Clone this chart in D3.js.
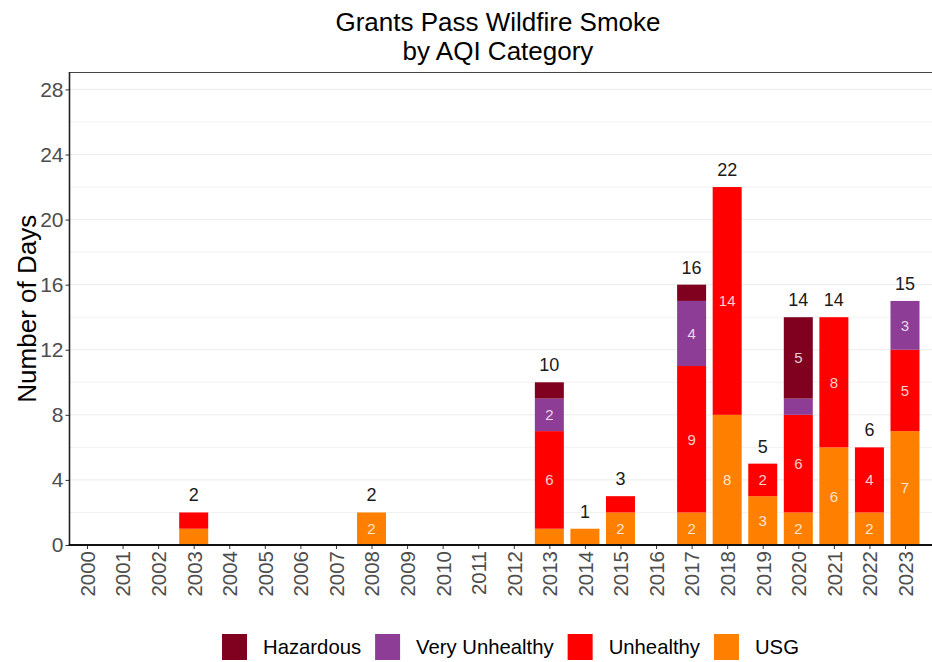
<!DOCTYPE html>
<html><head><meta charset="utf-8">
<script src="https://cdn.jsdelivr.net/npm/d3@7"></script>
<style>body{margin:0;background:#fff}svg{display:block;font-family:"Liberation Sans",Arial,sans-serif}</style>
</head><body><svg id="c" width="932" height="662"></svg>
<script>
const years = d3.range(2000, 2024).map(String);
const categories = ["USG", "Unhealthy", "Very Unhealthy", "Hazardous"];
const legendOrder = ["Hazardous", "Very Unhealthy", "Unhealthy", "USG"];
const colors = {"Hazardous":"#800020","Very Unhealthy":"#8E3D96","Unhealthy":"#FF0000","USG":"#FF8000"};
// values per year (2000..2023)
const usg        = [0,0,0,1,0,0,0,0,2,0,0,0,0,1,1,2,0,2,8,3,2,6,2,7];
const unhealthy  = [0,0,0,1,0,0,0,0,0,0,0,0,0,6,0,1,0,9,14,2,6,8,4,5];
const veryUnh    = [0,0,0,0,0,0,0,0,0,0,0,0,0,2,0,0,0,4,0,0,1,0,0,3];
const hazardous  = [0,0,0,0,0,0,0,0,0,0,0,0,0,1,0,0,0,1,0,0,5,0,0,0];
const yTicks = [0,4,8,12,16,20,24,28];

const series = {"USG":usg,"Unhealthy":unhealthy,"Very Unhealthy":veryUnh,"Hazardous":hazardous};
const table = years.map((y,i)=>{const o={year:y}; categories.forEach(c=>o[c]=series[c][i]); return o;});
const totals = years.map((y,i)=>categories.reduce((s,c)=>s+series[c][i],0));

const svg = d3.select("#c");
const L=69.5, R=932, T=72.5, B=545;
const FF = "Liberation Sans,Arial,sans-serif";
const x = d3.scalePoint().domain(years).range([87,905]);
const bw = 29;
const y = d3.scaleLinear().domain([0,29.04]).range([B,T]);

// grid
const g = svg.append("g");
d3.range(2,29,4).forEach(v=>g.append("line").attr("x1",L).attr("x2",R).attr("y1",y(v)).attr("y2",y(v)).attr("stroke","#f2f2f2").attr("stroke-width",1));
yTicks.forEach(v=>g.append("line").attr("x1",L).attr("x2",R).attr("y1",y(v)).attr("y2",y(v)).attr("stroke","#ebebeb").attr("stroke-width",1));

// bars
const stack = d3.stack().keys(categories)(table);
const bars = svg.append("g");
stack.forEach(layer=>{
  bars.selectAll(null).data(layer).enter().append("rect")
    .filter(d=>d[1]>d[0])
    .attr("x",d=>x(d.data.year)-bw/2).attr("width",bw)
    .attr("y",d=>y(d[1])).attr("height",d=>y(d[0])-y(d[1]))
    .attr("fill",colors[layer.key]);
  bars.selectAll(null).data(layer.filter(d=>d[1]-d[0]>=2)).enter().append("text")
    .attr("x",d=>x(d.data.year)).attr("y",d=>y((d[0]+d[1])/2)).attr("dy","0.36em")
    .attr("text-anchor","middle").attr("font-size",15).attr("fill","#fff").attr("fill-opacity",0.82)
    .text(d=>d[1]-d[0]);
});
// totals
svg.append("g").selectAll("text").data(years.map((yr,i)=>({yr,t:totals[i]})).filter(d=>d.t>0)).enter()
  .append("text").attr("x",d=>x(d.yr)).attr("y",d=>y(d.t)-11).attr("text-anchor","middle")
  .attr("font-size",18).attr("fill","#1a1a1a").text(d=>d.t);

// axes
const yAxis = svg.append("g").attr("transform",`translate(${L},0)`).call(d3.axisLeft(y).tickValues(yTicks).tickSize(4).tickPadding(2));
yAxis.select(".domain").remove();
yAxis.selectAll("line").attr("stroke","#333");
yAxis.selectAll("text").attr("font-size",21).attr("fill","#4d4d4d").attr("font-family",FF);
const xAxis = svg.append("g").attr("transform",`translate(0,${B})`).call(d3.axisBottom(x).tickSize(4).tickPadding(3));
xAxis.select(".domain").remove();
xAxis.selectAll("line").attr("stroke","#333");
xAxis.selectAll("text").attr("font-size",20.5).attr("fill","#4d4d4d").attr("font-family",FF)
  .attr("transform","rotate(-90)").attr("text-anchor","end").attr("x",-6).attr("y",0).attr("dy","0.36em");

// panel lines
svg.append("line").attr("x1",L).attr("x2",R).attr("y1",T).attr("y2",T).attr("stroke","#444").attr("stroke-width",1.2);
svg.append("line").attr("x1",L).attr("x2",L).attr("y1",T-0.6).attr("y2",B).attr("stroke","#222").attr("stroke-width",1.6);
svg.append("line").attr("x1",L-0.8).attr("x2",R).attr("y1",B).attr("y2",B).attr("stroke","#111").attr("stroke-width",2.2);

// title
svg.append("text").attr("x",498).attr("y",31).attr("text-anchor","middle").attr("font-size",26).attr("fill","#000").text("Grants Pass Wildfire Smoke");
svg.append("text").attr("x",498).attr("y",60).attr("text-anchor","middle").attr("font-size",26).attr("fill","#000").text("by AQI Category");
// y label
svg.append("text").attr("transform",`translate(27,${(T+B)/2}) rotate(-90)`).attr("text-anchor","middle").attr("dy","0.35em")
  .attr("font-size",26).attr("fill","#000").text("Number of Days");

// legend
const lg = svg.append("g");
let lx = 222;
legendOrder.forEach(k=>{
  lg.append("rect").attr("x",lx).attr("y",634).attr("width",25).attr("height",26).attr("fill",colors[k]);
  const t = lg.append("text").attr("x",lx+41).attr("y",647).attr("dy","0.35em").attr("font-size",20.3).attr("fill","#000").text(k);
  lx += 41 + t.node().getComputedTextLength() + 14;
});
</script></body></html>
